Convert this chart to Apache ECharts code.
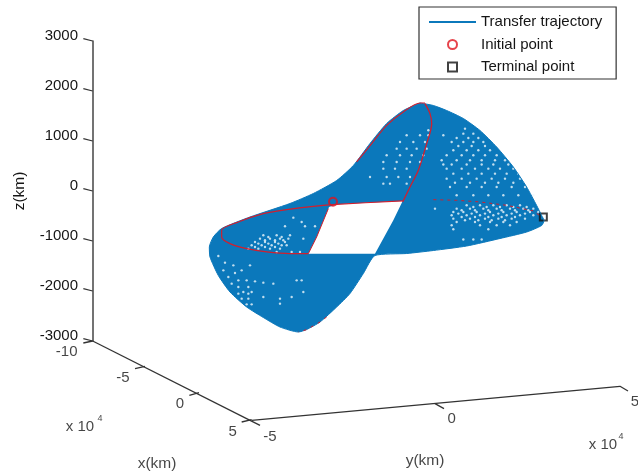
<!DOCTYPE html>
<html><head><meta charset="utf-8">
<style>html,body{margin:0;padding:0;background:#fff}#c{width:638px;height:476px}</style>
<script src="https://cdn.jsdelivr.net/npm/echarts@6/dist/echarts.min.js"></script></head>
<body><div id="c"></div>
<script>
// horizontal = view-plane coordinate of the oblique 3D projection, vertical = z (km)
const zTicks = [-3000,-2000,-1000,0,1000,2000,3000];
const surfaceOutline = [[720,1760],[760,1710],[800,1610],[850,1450],[900,1210],[950,880],[1000,480],[1040,80],[1070,-290],[1085,-490],[1092,-590],[1085,-690],[1040,-820],[960,-950],[860,-1100],[760,-1190],[680,-1250],[585,-1290],[550,-1650],[510,-2050],[470,-2320],[420,-2620],[380,-2770],[355,-2820],[300,-2720],[250,-2530],[200,-2320],[150,-2020],[115,-1690],[90,-1320],[88,-1120],[100,-920],[125,-750],[210,-520],[330,-250],[400,-50],[470,210],[520,510],[570,950],[620,1350],[670,1610],[720,1760]];
const surfaceHole = [[447,-320],[470,-266],[668,-199],[640,-586],[585,-1253],[385,-1253],[410,-919]];
const redTopLeft = [[735,1760],[720,1760],[670,1581],[620,1314],[575,947],[530,581]];
const redPeakRight = [[735,1747],[750,1547],[755,1347],[740,947],[715,414],[690,81],[668,-219]];
const redEllipseLeft = [[668,-199],[470,-266],[400,-306],[320,-373],[250,-453],[175,-619],[125,-786],[125,-919],[150,-1053],[200,-1153],[260,-1219],[330,-1253],[385,-1253]];
const redHoleEdge = [[385,-1253],[410,-919],[445,-353]];
const redEllipseRight = [[760,-173],[830,-186],[900,-219],[980,-286],[1060,-399],[1085,-519]];
const redBottom = [[440,-2519],[420,-2619],[380,-2773],[355,-2819]];
const initialPoint = [[459,-215]];
const terminalPoint = [[1090,-519]];
const speckRows = [
 [1247,[855]],[1147,[850,880]],[981,[815,850,880,910]],[814,[820,860,895,930]],[614,[785,830,870,905,945,975]],[447,[800,845,885,925,960,1000]],[247,[800,845,890,935,975,1020]],[81,[810,860,905,950,995,1035]],[-86,[830,880,925,970,1015,1060]],
 [1060,[830,865,895]],[900,[835,875,915]],[714,[800,845,880,915,950]],[530,[790,815,860,905,940,985]],[347,[820,865,905,945,980,1015]],[164,[825,870,915,955,1000]],
 [-286,[860,900,940,980,1020]],[-320,[880,920,960,1000,1040]],[-353,[765,830,870,910,950,990,1030,1060]],[-386,[845,885,925,965,1005,1045]],[-419,[820,850,890,930,970,1010,1050,1075]],[-452,[835,875,915,955,995,1035]],[-486,[815,860,900,940,980,1020,1060]],[-520,[845,885,925,965,1005]],[-553,[820,870,915,955,995,1035]],[-586,[855,895,935,975]],[-619,[830,885,930,970,1010]],[-686,[815,900,950,990]],[-766,[820,925]],
 [1214,[745]],[1114,[680,720,745,790]],[981,[660,700,735]],[847,[650,680,710,740]],[714,[620,660,695,730]],[581,[610,650,690,720]],[447,[610,645,680]],[281,[570,620,655,690]],[147,[610,630,680]],
 [-533,[340]],[-619,[365]],[-706,[315,375,405]],[-886,[250,290,330]],[-920,[265,305]],[-953,[240,270,300,325,370]],[-986,[255,285,310]],[-1019,[225,255,285,315]],[-1052,[235,265,295]],[-1086,[215,245,275,305,320]],[-1120,[225,255,285]],[-1153,[205,235,270,300]],[-1219,[290,335,360]],
 [-1300,[115]],[-1433,[135]],[-1487,[160,210]],[-1587,[130,185]],[-1640,[165]],[-1720,[145]],[-1787,[175,200,350,365]],[-1807,[225]],[-1833,[250]],[-1853,[155,280]],[-1920,[175,205]],[-2020,[190,215,370]],[-2053,[175,205]],[-2120,[250,335]],[-2153,[185,205,300]],[-2253,[300]],[-2267,[200,215]],[-970,[850,880,905]]
];
const axisPaths = [
 [[-262,-3000],[240,-4686]],
 [[215,-4586],[1320,-3906],[1344,-4000]],
 [[-290,-3040],[-262,-3000]],[[-135,-3552],[-105,-3506]],[[28,-4086],[57,-4032]],[[185,-4620],[215,-4572]],
 [[765,-4252],[792,-4352]]
];
const axisTexts = [
 [-340,-3220,'-10',15],[-171,-3746,'-5',15],[0,-4266,'0',15],[158,-4826,'5',15],
 [270,-4926,'-5',15],[815,-4566,'0',15],[1365,-4220,'5',15],
 [-300,-4726,'x 10',15],[-240,-4546,'4',9],[1269,-5086,'x 10',15],[1323,-4906,'4',9],
 [-69,-5446,'x(km)',15.5],[735,-5386,'y(km)',15.5]
];
const font = '"Liberation Sans", Arial, sans-serif';
const textColor = '#151515';
const specks = speckRows.flatMap(r => r[1].map(h => [h, r[0]]));
const polygon = (pts, color, smooth) => ({
  type:'custom', silent:true, coordinateSystem:'cartesian2d', clip:false, data:[0],
  renderItem:(p, api) => ({type:'polygon', shape:{points:pts.map(d => api.coord(d)), smooth:smooth||0}, style:{fill:color}})
});
const thinLine = (data, color, width, extra) => Object.assign({
  type:'line', data, showSymbol:false, symbol:'none', clip:false, silent:true,
  lineStyle:{color, width}
}, extra||{});
const redColor = '#d11f2e';
const series = [
  polygon(surfaceOutline, '#0b78bb', 0.2),
  {type:'scatter', data:specks, symbol:'circle', symbolSize:2.4, clip:false, silent:true, itemStyle:{color:'#eef6fb'}},
  polygon(surfaceHole, '#ffffff'),
  thinLine(surfaceOutline, '#0b78bb', 1, {name:'Transfer trajectory', smooth:0.2}),
  thinLine(redTopLeft, redColor, 1.2, {smooth:0.3}),
  thinLine(redPeakRight, redColor, 1.3, {smooth:0.3}),
  thinLine(redEllipseLeft, redColor, 1.2, {smooth:0.3}),
  thinLine(redHoleEdge, redColor, 1),
  thinLine(redEllipseRight, redColor, 1, {lineStyle:{color:redColor, width:1, type:[3,4]}}),
  thinLine(redBottom, redColor, 1, {lineStyle:{color:redColor, width:1, type:[3,5]}}),
  {type:'scatter', name:'Initial point', data:initialPoint, symbol:'circle', symbolSize:8, clip:false, silent:true, itemStyle:{color:'transparent', borderColor:'#e0141e', borderWidth:2}},
  {type:'scatter', name:'Terminal point', data:terminalPoint, symbol:'rect', symbolSize:7, clip:false, silent:true, itemStyle:{color:'transparent', borderColor:'#111', borderWidth:2}}
];
axisPaths.forEach(p => series.push(thinLine(p, '#333', 1.3)));
zTicks.forEach(z => series.push(thinLine([[-290, z+46],[-262, z]], '#333', 1.2)));
series.push({
  type:'scatter', symbolSize:0, clip:false, silent:true,
  data:axisTexts.map(t => ({value:t, label:{fontSize:t[3]}})),
  label:{show:true, position:'inside', fontFamily:font, color:textColor, formatter:p => p.value[2]}
});
const chart = echarts.init(document.getElementById('c'), null, {renderer:'canvas'});
chart.setOption({
  animation:false, backgroundColor:'#fff',
  grid:{left:0, right:0, top:41, height:300},
  xAxis:{type:'value', min:-540, max:1374, show:false},
  yAxis:{type:'value', min:-3000, max:3000, interval:1000, offset:-93,
    name:'z(km)', nameLocation:'middle', nameGap:65, nameRotate:90,
    nameTextStyle:{fontFamily:font, fontSize:15.5, color:textColor},
    splitLine:{show:false}, axisTick:{show:false},
    axisLine:{show:true, onZero:false, lineStyle:{color:'#444', width:1.5}},
    axisLabel:{margin:15, fontFamily:font, fontSize:15, color:textColor, verticalAlign:'bottom', lineHeight:10,
      formatter:v => String(v)}},
  legend:{
    orient:'vertical', left:419, top:7, padding:[7.5,14,4.5,10],
    backgroundColor:'#fff', borderColor:'#333', borderWidth:1.2, itemWidth:47, itemHeight:9, itemGap:7.5,
    selectedMode:false, align:'left',
    textStyle:{fontFamily:font, fontSize:15, color:textColor},
    data:[{name:'Transfer trajectory', icon:'path://M0,0H47V2H0Z', itemStyle:{color:'#0b78bb', borderWidth:0}},
          {name:'Initial point', icon:'circle'},
          {name:'Terminal point', icon:'path://M0,0H10V10H0Z'}]
  },
  series
});
</script></body></html>
